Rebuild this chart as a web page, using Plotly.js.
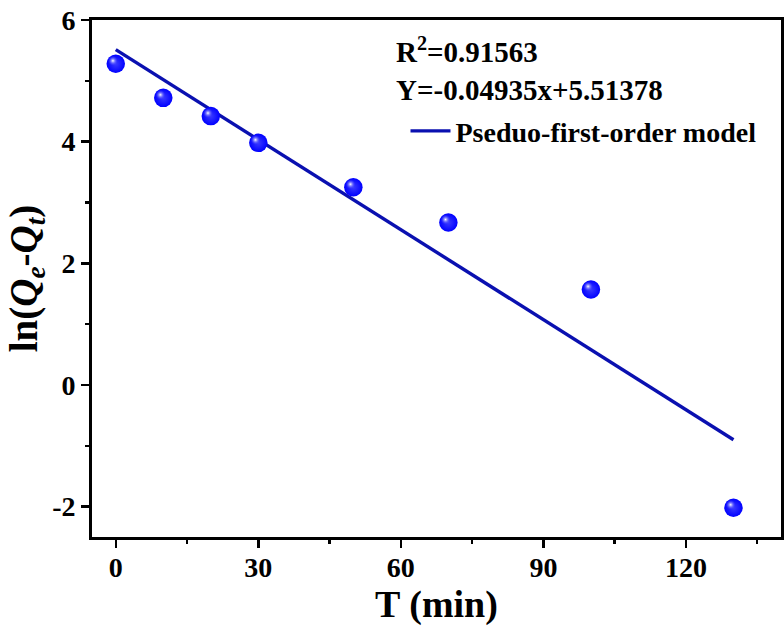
<!DOCTYPE html>
<html>
<head>
<meta charset="utf-8">
<script src="https://cdn.plot.ly/plotly-3.0.1.min.js"></script>
<style>html,body{margin:0;padding:0;background:#fff;}#chart{width:784px;height:628px;}</style>
</head>
<body>
<div id="chart"></div>
<script>
const timeMin = [0, 10, 20, 30, 50, 70, 100, 130];
const lnQ = [5.28, 4.72, 4.42, 3.98, 3.25, 2.67, 1.57, -2.02];
const slope = -0.04935;
const intercept = 5.51378;
const fitX = [0, 130];
const fitY = fitX.map(x => slope * x + intercept);
const xTicks = [0, 30, 60, 90, 120];
const yTicks = [-2, 0, 2, 4, 6];
const r2Label = 'R<sup>2</sup>=0.91563';
const eqLabel = 'Y=-0.04935x+5.51378';
const fitName = 'Pseduo-first-order model';

const font = 'Liberation Serif, Times New Roman, serif';
const xRange = [-5, 140];
const yRange = [-2.5, 6];
// highlight offset (axis units) for the glossy sphere look
const hx = 0.6, hy = 0.05;

const traces = [
  {
    x: fitX, y: fitY, mode: 'lines', name: fitName,
    line: {color: '#0a10b0', width: 3.4}, showlegend: true
  },
  {
    x: timeMin, y: lnQ, mode: 'markers', showlegend: false,
    marker: {size: 18.5, color: '#0000ff', line: {width: 0},
             gradient: {type: 'radial', color: '#3a3aff'}}
  },
  {
    x: timeMin, y: lnQ, mode: 'markers', showlegend: false,
    xaxis: 'x2', yaxis: 'y2',
    marker: {size: 10, color: 'rgba(60,60,255,0)', line: {width: 0},
             gradient: {type: 'radial', color: '#ffffff'}}
  }
];

const axisCommon = {
  showline: true, linecolor: '#000', linewidth: 2.8, mirror: true,
  ticks: 'outside', ticklen: 8, tickwidth: 2.5, tickcolor: '#000',
  showgrid: false, zeroline: false,
  tickfont: {family: font, size: 28, color: '#000', weight: 'bold'}
};

const layout = {
  width: 784, height: 628,
  margin: {l: 92, r: 3, t: 20, b: 91},
  paper_bgcolor: '#fff', plot_bgcolor: '#fff',
  font: {family: font, color: '#000'},
  xaxis: Object.assign({}, axisCommon, {
    range: xRange, tickvals: xTicks, ticktext: xTicks.map(String),
    ticklabelstandoff: -4,
    minor: {dtick: 15, tick0: 0, ticks: 'outside', ticklen: 4, tickwidth: 2.5, tickcolor: '#000'},
    title: {text: 'T (min)', font: {family: font, size: 38, color: '#000', weight: 'bold'}, standoff: 4}
  }),
  yaxis: Object.assign({}, axisCommon, {
    range: yRange, tickvals: yTicks, ticktext: yTicks.map(String),
    minor: {dtick: 1, tick0: 0, ticks: 'outside', ticklen: 4, tickwidth: 2.5, tickcolor: '#000'},
    title: {text: 'ln(<i>Q<sub>e</sub></i>-<i>Q<sub>t</sub></i>)', font: {family: font, size: 39, color: '#000', weight: 'bold'}, standoff: 3}
  }),
  xaxis2: {overlaying: 'x', range: [xRange[0] + hx, xRange[1] + hx], visible: false, fixedrange: true},
  yaxis2: {overlaying: 'y', range: [yRange[0] - hy, yRange[1] - hy], visible: false, fixedrange: true},
  showlegend: true,
  legend: {
    x: 0.455, y: 0.785, xanchor: 'left', yanchor: 'middle',
    bgcolor: 'rgba(0,0,0,0)', borderwidth: 0,
    font: {family: font, size: 28, color: '#000', weight: 'bold'},
    itemwidth: 40
  },
  annotations: [
    {xref: 'paper', yref: 'paper', x: 0.439, y: 0.942, xanchor: 'left', yanchor: 'middle',
     text: r2Label, showarrow: false, font: {family: font, size: 29, color: '#000', weight: 'bold'}},
    {xref: 'paper', yref: 'paper', x: 0.439, y: 0.865, xanchor: 'left', yanchor: 'middle',
     text: eqLabel, showarrow: false, font: {family: font, size: 29, color: '#000', weight: 'bold'}}
  ]
};

Plotly.newPlot('chart', traces, layout, {displayModeBar: false, staticPlot: true});
</script>
</body>
</html>
